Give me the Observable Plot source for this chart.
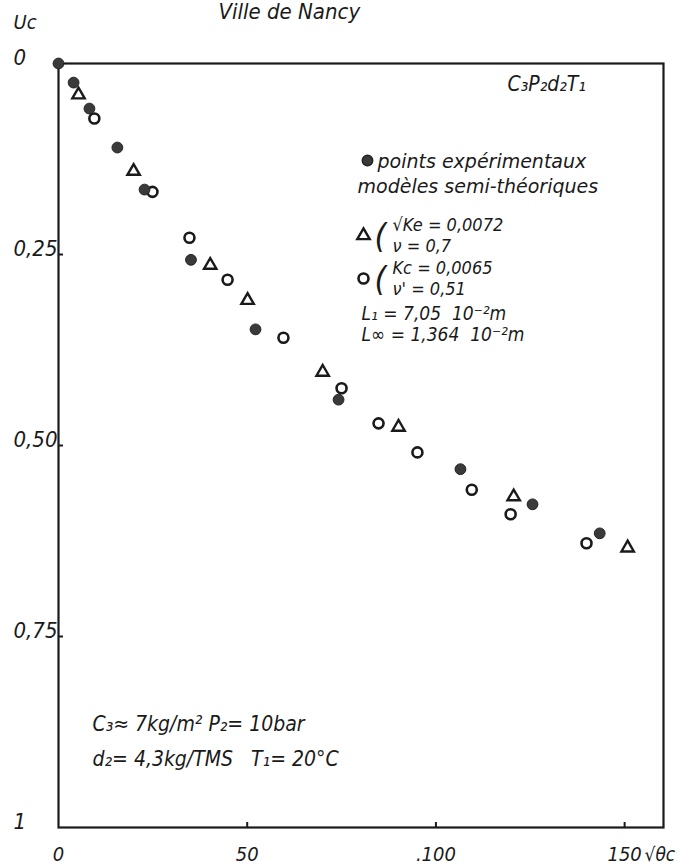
<!DOCTYPE html>
<html>
<head>
<meta charset="utf-8">
<script src="https://cdn.jsdelivr.net/npm/d3@7"></script>
<script src="https://cdn.jsdelivr.net/npm/@observablehq/plot@0.6"></script>
<style>
  html, body { margin: 0; padding: 0; background: #fff; }
  #chart { width: 682px; height: 868px; }
</style>
</head>
<body>
<div id="chart"></div>
<script>
// Experimental points (filled circles)
const expX = [0, 4.0, 8.2, 15.6, 22.8, 35.1, 52.2, 74.2, 106.5, 125.6, 143.4];
const expY = [0, 0.025, 0.059, 0.110, 0.165, 0.257, 0.348, 0.440, 0.531, 0.577, 0.615];
// Semi-theoretical model sqrt(Ke)=0.0072, nu=0.7 (triangles)
const keX = [5.3, 19.9, 40.2, 50.1, 70.0, 90.1, 120.6, 150.8];
const keY = [0.041, 0.141, 0.264, 0.310, 0.404, 0.476, 0.567, 0.634];
// Semi-theoretical model Kc=0.0065, nu'=0.51 (open circles)
const kcX = [9.5, 24.9, 34.7, 44.8, 59.6, 75.0, 84.8, 95.1, 109.5, 119.8, 139.9];
const kcY = [0.072, 0.168, 0.228, 0.283, 0.359, 0.425, 0.471, 0.509, 0.558, 0.590, 0.628];

// Axis ticks and labels
const xTicks = [0, 50, 100, 150];
const xTickLabels = ["0", "50", ".100", "150"];
const yTicks = [0, 0.25, 0.5, 0.75, 1];
const yTickLabels = ["0", "0,25", "0,50", "0,75", "1"];
const yInnerTicks = [0.25, 0.5, 0.75];
const xInnerTicks = [50, 100, 150];

// Texts
const title = "Ville de Nancy";
const yLabel = "Uc";
const xLabel = "√θc";
const legendTitle = "C₃P₂d₂T₁";
const legendExp = "points expérimentaux";
const legendModels = "modèles semi-théoriques";
const ke1 = "√Ke = 0,0072";
const ke2 = "ν = 0,7";
const kc1 = "Kc = 0,0065";
const kc2 = "ν' = 0,51";
const l1 = "L₁ = 7,05  10⁻²m";
const linf = "L∞ = 1,364  10⁻²m";
const cond1 = "C₃≈ 7kg/m² P₂= 10bar";
const cond2 = "d₂= 4,3kg/TMS   T₁= 20°C";

const exp = expX.map((x, i) => ({x, y: expY[i]}));
const ke = keX.map((x, i) => ({x, y: keY[i]}));
const kc = kcX.map((x, i) => ({x, y: kcY[i]}));

const FONT = "'DejaVu Sans Condensed', 'DejaVu Sans', sans-serif";
const WIDE = "'DejaVu Sans', sans-serif";
const ink = "#1a1a1a";

function note(text, dx, dy, size = 21, extra = {}) {
  return Plot.text([text], {
    text: d => d, frameAnchor: "top-left", dx, dy,
    textAnchor: "start", lineAnchor: "bottom",
    fontSize: size, fontStyle: "italic", fill: ink, ...extra
  });
}

const chart = Plot.plot({
  width: 682,
  height: 868,
  marginLeft: 58,
  marginRight: 19,
  marginTop: 63,
  marginBottom: 41,
  style: {background: "#fff", fontFamily: FONT, fontStyle: "italic", color: ink},
  x: {domain: [0, 160.3]},
  y: {domain: [0, 1], reverse: true},
  marks: [
    Plot.frame({stroke: ink, strokeWidth: 2.2}),
    Plot.axisY(yTicks, {anchor: "left", label: null, tickSize: 0, tickPadding: 0,
      tickFormat: d => yTickLabels[yTicks.indexOf(d)],
      textAnchor: "start", dx: -45, dy: -6, fontSize: 22, fontStyle: "italic", fill: ink}),
    Plot.axisY(yInnerTicks, {anchor: "left", label: null, tickSize: 5, dx: 5, text: null, stroke: ink, strokeWidth: 2}),
    Plot.axisX(xTicks, {anchor: "bottom", label: null, tickSize: 0, tickPadding: 33, lineAnchor: "bottom",
      tickFormat: d => xTickLabels[xTicks.indexOf(d)],
      fontSize: 20, fontStyle: "italic", fill: ink}),
    Plot.axisX(xInnerTicks, {anchor: "bottom", label: null, tickSize: 5, dy: -5, text: null, stroke: ink, strokeWidth: 2}),
    Plot.dot(kc, {x: "x", y: "y", r: 5, stroke: ink, strokeWidth: 2.6, fill: "#fff"}),
    Plot.dot(ke, {x: "x", y: "y", r: 4.6, symbol: "triangle", stroke: ink, strokeWidth: 2.4, fill: "none"}),
    Plot.dot(exp, {x: "x", y: "y", r: 5.4, fill: "#3a3a3a", stroke: "#222", strokeWidth: 1}),
    // Titles / axis labels
    note(title, 160, -45, 22),
    note(yLabel, -45, -35, 20),
    note(xLabel, 586, 797, 19),
    // Legend
    note(legendTitle, 449, 27, 21),
    Plot.dot([0], {frameAnchor: "top-left", dx: 309, dy: 97, r: 5.2, fill: "#3a3a3a", stroke: "#222"}),
    note(legendExp, 319, 104, 19, {fontFamily: WIDE}),
    note(legendModels, 299, 129, 19, {fontFamily: WIDE}),
    Plot.dot([0], {frameAnchor: "top-left", dx: 305, dy: 172, r: 4.6, symbol: "triangle", stroke: ink, strokeWidth: 2.4, fill: "none"}),
    note("(", 316, 184, 34, {fontWeight: 300}),
    note(ke1, 334, 167, 18),
    note(ke2, 334, 188, 18),
    Plot.dot([0], {frameAnchor: "top-left", dx: 305, dy: 215, r: 5, stroke: ink, strokeWidth: 2.6, fill: "#fff"}),
    note("(", 316, 227, 34, {fontWeight: 300}),
    note(kc1, 334, 210, 18),
    note(kc2, 334, 231, 18),
    note(l1, 303, 256, 19),
    note(linf, 303, 277, 19),
    // Conditions
    note(cond1, 34, 667),
    note(cond2, 34, 702)
  ]
});

document.getElementById("chart").appendChild(chart);
</script>
</body>
</html>
